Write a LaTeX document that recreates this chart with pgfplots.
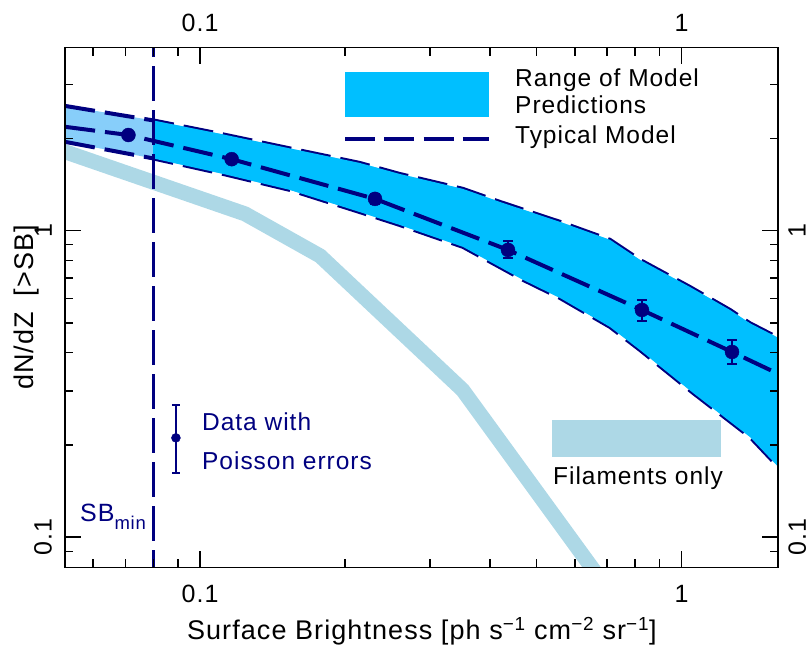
\documentclass[border=0pt]{standalone}
\usepackage{fontspec}
\setmainfont{Liberation Sans}[LetterSpace=4]
\usepackage{pgfplots}
\pgfplotsset{compat=1.18}
\definecolor{navyc}{RGB}{0,0,128}
\definecolor{dsb}{RGB}{0,191,255}
\definecolor{lsb}{RGB}{135,206,250}
\definecolor{lb}{RGB}{173,216,230}
\newcommand{\legfont}{\fontsize{24.5bp}{29bp}\selectfont}
\newcommand{\tickfont}{\fontsize{25bp}{30bp}\selectfont}
\newcommand{\labfont}{\fontsize{27bp}{32bp}\selectfont}
\begin{document}
\begin{tikzpicture}
\path (0,0) rectangle (811bp,648bp);
\begin{axis}[
  at={(65.3bp,80.7bp)}, anchor=south west,
  scale only axis, width=713bp, height=519.6bp,
  xmode=log, ymode=log,
  xmin=0.0525, xmax=1.587, ymin=0.0798, ymax=3.95,
  xtick={0.1,1}, xticklabels={0.1,1},
  ytick={0.1,1}, yticklabels={0.1,1},
  minor xtick={0.06,0.07,0.08,0.09,0.2,0.3,0.4,0.5,0.6,0.7,0.8,0.9},
  minor ytick={0.09,0.2,0.3,0.4,0.5,0.6,0.7,0.8,0.9,2,3},
  tick align=inside,
  major tick length=16bp, minor tick length=8bp,
  tick style={line width=1.5bp, black},
  axis line style={line width=1.6bp},
  axis on top,
  ticklabel style={font=\tickfont, inner sep=0pt},
  xticklabel shift=17.7bp,
  yticklabel shift=13.3bp,
  yticklabel style={rotate=90, anchor=south},
  every axis x label/.style={at={(axis description cs:0.5,0)}, anchor=base, yshift=-72bp, font=\labfont, inner sep=0pt},
  every axis y label/.style={at={(axis description cs:-0.0449,0.5)}, rotate=90, anchor=base, font=\labfont, inner sep=0pt},
  xlabel={Surface Brightness [ph s\textsuperscript{−1} cm\textsuperscript{−2} sr\textsuperscript{−1}]},
  ylabel={dN/dZ\hspace{16bp}[>SB]},
]
% filaments only
\addplot[lb, line width=15bp] coordinates {
 (0.05,1.855) (0.124,1.134) (0.1775,0.827) (0.351,0.302) (0.661,0.077)};
% full range of model predictions (light part)
\addplot[fill=lsb, draw=none] coordinates {
 (0.0525,2.55) (0.0799,2.288) (0.1116,2.06) (0.1537,1.854) (0.2143,1.663)
 (0.2594,1.531) (0.3514,1.368) (0.4196,1.240) (0.5589,1.068) (0.7099,0.933)
 (0.8193,0.8025) (1.040,0.655) (1.260,0.551) (1.386,0.4988) (1.587,0.447)
 (1.587,0.1696) (1.386,0.2124) (1.056,0.2955) (0.8193,0.408) (0.7099,0.485)
 (0.5589,0.603) (0.4684,0.691) (0.3514,0.885) (0.2594,1.044) (0.2143,1.15)
 (0.1537,1.357) (0.1116,1.531) (0.0799,1.720) (0.0525,1.947)} -- cycle;
% boundaries
\addplot[navyc, line width=4bp, dash pattern=on 30bp off 10bp] coordinates {
 (0.0525,2.55) (0.0799,2.288) (0.1116,2.06) (0.1537,1.854) (0.2143,1.663)
 (0.2594,1.531) (0.3514,1.368) (0.4196,1.240) (0.5589,1.068) (0.7099,0.933)
 (0.8193,0.8025) (1.040,0.655) (1.260,0.551) (1.386,0.4988) (1.587,0.447)};
\addplot[navyc, line width=4bp, dash pattern=on 30bp off 10bp] coordinates {
 (0.0525,1.947) (0.0799,1.720) (0.1116,1.531) (0.1537,1.357) (0.2143,1.15)
 (0.2594,1.044) (0.3514,0.885) (0.4684,0.691) (0.5589,0.603) (0.7099,0.485)
 (0.8193,0.408) (1.056,0.2955) (1.386,0.2124) (1.587,0.1696)};
% range above SB_min (deep part)
\addplot[fill=dsb, draw=none] coordinates {
 (0.0799,2.288) (0.1116,2.06) (0.1537,1.854) (0.2143,1.663)
 (0.2594,1.531) (0.3514,1.368) (0.4196,1.240) (0.5589,1.068) (0.7099,0.933)
 (0.8193,0.8025) (1.040,0.655) (1.260,0.551) (1.386,0.4988) (1.587,0.447)
 (1.587,0.1696) (1.386,0.2124) (1.056,0.2955) (0.8193,0.408) (0.7099,0.485)
 (0.5589,0.603) (0.4684,0.691) (0.3514,0.885) (0.2594,1.044) (0.2143,1.15)
 (0.1537,1.357) (0.1116,1.531) (0.0799,1.720)} -- cycle;
% typical model
\addplot[navyc, line width=4bp, dash pattern=on 30bp off 10bp] coordinates {
 (0.0525,2.18) (0.0710,2.05) (0.1163,1.710) (0.2308,1.269) (0.4359,0.865)
 (0.827,0.551) (1.272,0.402) (1.587,0.341)};
% SB_min
\addplot[navyc, line width=3bp, dash pattern=on 35bp off 9bp] coordinates {
 (0.08,0.07) (0.08,4.2)};
% data with Poisson errors
\addplot[navyc, only marks, mark=*, mark size=7bp, mark options={fill=navyc, draw=navyc, solid},
  error bars/.cd, y dir=both, y explicit,
  error bar style={line width=2bp, navyc, solid},
  error mark options={rotate=90, line width=2bp, mark size=5bp, navyc, solid}]
 coordinates {
 (0.0710,2.05) += (0,0.05) -= (0,0.05)
 (0.1163,1.710) += (0,0.05) -= (0,0.05)
 (0.2308,1.269) += (0,0.05) -= (0,0.05)
 (0.4359,0.865) += (0,0.063) -= (0,0.052)
 (0.827,0.551) += (0,0.042) -= (0,0.044)
 (1.272,0.402) += (0,0.038) -= (0,0.036)};
% legend key for data
\addplot[navyc, only marks, mark=*, mark size=4.5bp, mark options={fill=navyc, draw=navyc, solid},
  error bars/.cd, y dir=both, y explicit,
  error bar style={line width=1.6bp, navyc, solid},
  error mark options={rotate=90, line width=1.6bp, mark size=4bp, navyc, solid}]
 coordinates {(0.0891,0.2109) += (0,0.059) -= (0,0.049)};
% legends
\fill[dsb] (rel axis cs:0.3923,0.8666) rectangle (rel axis cs:0.5943,0.9532);
\draw[navyc, line width=4bp, dash pattern=on 30bp off 9.3bp] (rel axis cs:0.3923,0.8246) -- (rel axis cs:0.5943,0.8246);
\node[anchor=base west, font=\legfont, inner sep=0pt] at (rel axis cs:0.6307,0.9250) {Range of Model};
\node[anchor=base west, font=\legfont, inner sep=0pt] at (rel axis cs:0.6307,0.8725) {Predictions};
\node[anchor=base west, font=\legfont, inner sep=0pt] at (rel axis cs:0.6307,0.8148) {Typical Model};
\fill[lb] (rel axis cs:0.6826,0.2123) rectangle (rel axis cs:0.9196,0.2835);
\node[anchor=base west, font=\legfont, inner sep=0pt] at (rel axis cs:0.6840,0.1603) {Filaments only};
\node[anchor=base west, font=\legfont, inner sep=0pt, text=navyc] at (rel axis cs:0.1917,0.2641) {Data with};
\node[anchor=base west, font=\legfont, inner sep=0pt, text=navyc] at (rel axis cs:0.1917,0.1873) {Poisson errors};
\node[anchor=base west, font=\fontsize{25bp}{30bp}\selectfont, inner sep=0pt, text=navyc] at (rel axis cs:0.0206,0.0872) {SB{\fontsize{18.5bp}{20bp}\selectfont\raisebox{-7.5bp}{min}}};
\end{axis}
\begin{axis}[
  at={(65.3bp,80.7bp)}, anchor=south west,
  scale only axis, width=713bp, height=519.6bp,
  xmode=log, ymode=log,
  xmin=0.0525, xmax=1.587, ymin=0.0798, ymax=3.95,
  xtick={0.1,1}, xticklabels={0.1,1},
  ytick={0.1,1}, yticklabels={0.1,1},
  minor xtick={}, minor ytick={},
  xticklabel pos=upper, yticklabel pos=right,
  axis line style={draw=none}, tick style={draw=none},
  ticklabel style={font=\tickfont, inner sep=0pt},
  xticklabel shift=15.7bp,
  yticklabel shift=10bp,
  yticklabel style={rotate=90, anchor=north},
]
\end{axis}
\end{tikzpicture}
\end{document}
